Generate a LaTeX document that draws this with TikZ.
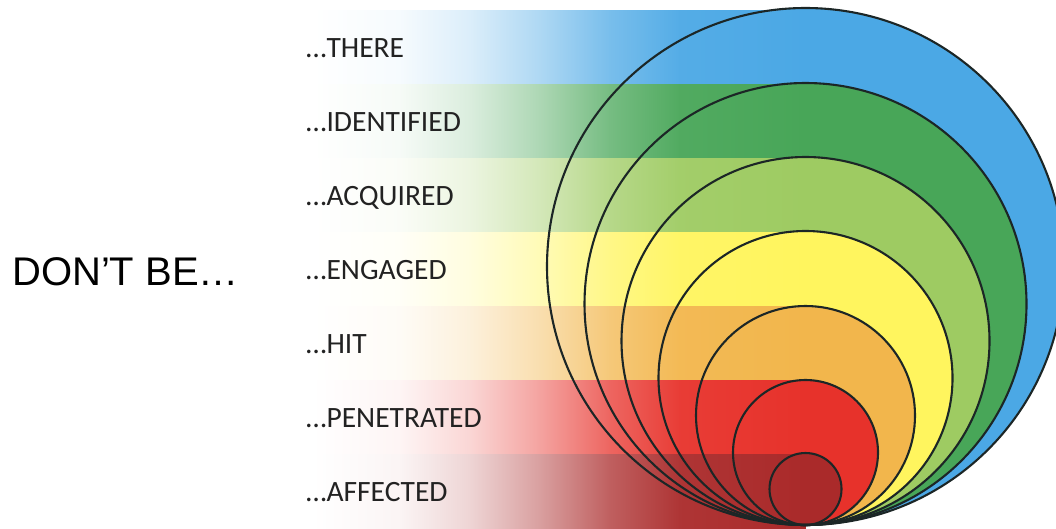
\documentclass[tikz,border=0pt]{standalone}
\usepackage{fontspec}
\setmainfont{Carlito}
\newfontfamily\arialfont{Liberation Sans}
\definecolor{c1}{HTML}{4BA8E5}
\definecolor{c2}{HTML}{48A658}
\definecolor{c3}{HTML}{9ECB62}
\definecolor{c4}{HTML}{FFF55E}
\definecolor{c5}{HTML}{F2B64C}
\definecolor{c6}{HTML}{E7322B}
\definecolor{c7}{HTML}{AA2A2A}
\definecolor{ink}{HTML}{222222}
\definecolor{ringline}{HTML}{1C2626}
\tikzset{
  lbl/.style={anchor=base west, inner sep=0pt, text=ink, font=\fontsize{29.5}{31}\selectfont},
  ring/.style={draw=ringline, line width=2.1pt},
}
\begin{document}
\begin{tikzpicture}[x=1pt,y=-1pt]
\useasboundingbox (0,0) rectangle (1056,528);
\clip (0,0) rectangle (1056,528);
% circle fills, largest first
\foreach \c/\r in {c1/258.5, c2/221, c3/184, c4/147, c5/109.5, c6/72.5, c7/36}{
  \fill[\c] (805.5,525-\r) circle[radius=\r];
}
% shaded bands (piecewise gradient white -> colour)
\foreach \c/\t in {c1/10, c2/84, c3/158, c4/232, c5/306, c6/380, c7/454}{
  \foreach \xa/\xb/\pa/\pb in {313/400/0/5, 400/470/5/20, 470/540/20/45, 540/610/45/75, 610/680/75/95, 680/805.5/95/100}{
    \shade[left color=\c!\pa!white, right color=\c!\pb!white] (\xa-0.3,\t) rectangle (\xb+0.3,\t+74);
  }
}
% circle outlines
\foreach \r in {258.5, 221, 184, 147, 109.5, 72.5, 36}{
  \draw[ring] (805.5,525-\r) circle[radius=\r];
}
% labels
\node[lbl] (l1) at (306,57) {…THERE};
\node[lbl] (l2) at (306,131) {…IDENTIFIED};
\node[lbl] (l3) at (306,205) {…ACQUIRED};
\node[lbl] (l4) at (306,279) {…ENGAGED};
\node[lbl] (l5) at (306,353) {…HIT};
\node[lbl] (l6) at (306,427) {…PENETRATED};
\node[lbl] (l7) at (306,501) {…AFFECTED};
\node[anchor=base west, inner sep=0pt, text=black, font=\arialfont\fontsize{40}{44}\selectfont] (title) at (12,285) {DON’T BE…};
\end{tikzpicture}
\end{document}
